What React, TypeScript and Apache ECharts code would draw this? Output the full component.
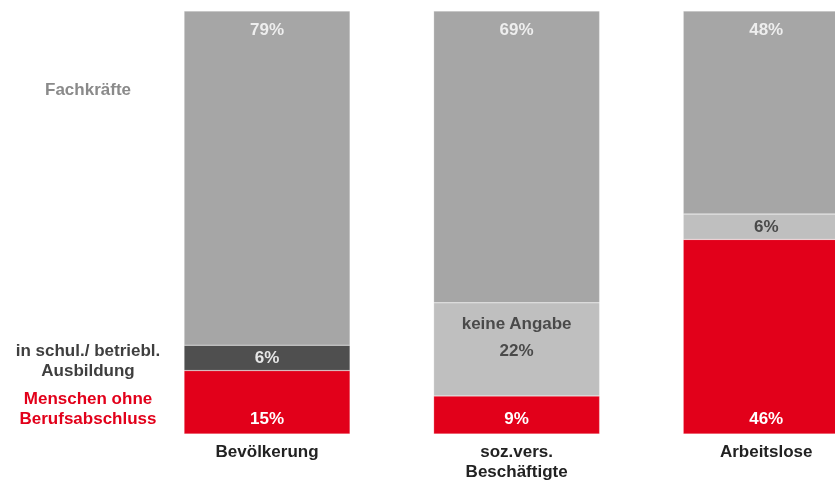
import React, { useEffect, useRef } from "react";
import * as echarts from "echarts";

const categories = ["Bevölkerung", "soz.vers.\nBeschäftigte", "Arbeitslose"];
const ohneAbschluss = [15, 9, 46];
const inAusbildung = [6, 0, 0];
const keineAngabe = [0, 22, 6];
const fachkraefte = [79, 69, 48];

const FONT = "'Liberation Sans', Arial, sans-serif";
const FS = 17;

export default function App() {
  const ref = useRef<HTMLDivElement>(null);
  useEffect(() => {
    if (!ref.current) return;
    const chart = echarts.init(ref.current, undefined, { renderer: "svg" });
    const baseLabel = { fontFamily: FONT, fontSize: FS, fontWeight: "bold" as const };
    const mk = (vals: number[], fn: (v: number, i: number) => any) =>
      vals.map((v, i) => (v > 0 ? { value: v, label: fn(v, i) } : { value: null, label: { show: false } }));
    const border = { borderColor: "rgba(255,255,255,0.45)", borderWidth: 0.5 };

    chart.setOption({
      animation: false,
      grid: { left: 142.25, right: 0, top: 11, bottom: 47, outerBoundsMode: "none", containLabel: false },
      xAxis: {
        type: "category",
        data: categories,
        axisLine: { show: false },
        axisTick: { show: false },
        axisLabel: {
          interval: 0,
          margin: 7,
          fontFamily: FONT,
          fontSize: FS,
          fontWeight: "bold",
          color: "#222222",
          lineHeight: 20,
        },
      },
      yAxis: { type: "value", min: 0, max: 100, show: false, splitLine: { show: false } },
      series: [
        {
          name: "Menschen ohne Berufsabschluss",
          type: "bar",
          stack: "s",
          barWidth: 166,
          itemStyle: { color: "#e2001a", ...border },
          data: mk(ohneAbschluss, () => ({
            show: true,
            position: "insideBottom",
            distance: 7,
            ...baseLabel,
            color: "#ffffff",
            formatter: "{c}%",
          })),
        },
        {
          name: "in schul./ betriebl. Ausbildung",
          type: "bar",
          stack: "s",
          barWidth: 166,
          itemStyle: { color: "#4f4f4f", ...border },
          data: mk(inAusbildung, () => ({
            show: true,
            position: "inside",
            ...baseLabel,
            color: "#e6e6e6",
            formatter: "{c}%",
          })),
        },
        {
          name: "keine Angabe",
          type: "bar",
          stack: "s",
          barWidth: 166,
          itemStyle: { color: "#bfbfbf", ...border },
          data: mk(keineAngabe, (v, i) =>
            i === 1
              ? {
                  show: true,
                  position: "insideTop",
                  distance: 7,
                  ...baseLabel,
                  color: "#4a4a4a",
                  formatter: "{a|keine Angabe}\n{a|{c}%}",
                  rich: { a: { ...baseLabel, color: "#4a4a4a", lineHeight: 27 } },
                }
              : {
                  show: true,
                  position: "inside",
                  ...baseLabel,
                  color: "#4a4a4a",
                  formatter: "{c}%",
                }
          ),
        },
        {
          name: "Fachkräfte",
          type: "bar",
          stack: "s",
          barWidth: 166,
          itemStyle: { color: "#a6a6a6", ...border },
          data: mk(fachkraefte, () => ({
            show: true,
            position: "insideTop",
            distance: 10,
            ...baseLabel,
            color: "#eeeeee",
            formatter: "{c}%",
          })),
        },
      ],
      graphic: [
        {
          type: "text",
          x: 88,
          y: 89,
          style: {
            text: "Fachkräfte",
            align: "center",
            verticalAlign: "middle",
            fill: "#8a8a8a",
            font: `bold ${FS}px ${FONT}`,
          },
        },
        {
          type: "text",
          x: 88,
          y: 360,
          style: {
            text: "in schul./ betriebl.\nAusbildung",
            align: "center",
            verticalAlign: "middle",
            lineHeight: 20,
            fill: "#3f3f3f",
            font: `bold ${FS}px ${FONT}`,
          },
        },
        {
          type: "text",
          x: 88,
          y: 408,
          style: {
            text: "Menschen ohne\nBerufsabschluss",
            align: "center",
            verticalAlign: "middle",
            lineHeight: 20,
            fill: "#e2001a",
            font: `bold ${FS}px ${FONT}`,
          },
        },
      ],
    });
    return () => chart.dispose();
  }, []);
  return (
    <div style={{ position: "fixed", left: 0, top: 0, width: 835, height: 481, overflow: "hidden" }}>
      <div ref={ref} style={{ width: 891, height: 481 }} />
    </div>
  );
}
